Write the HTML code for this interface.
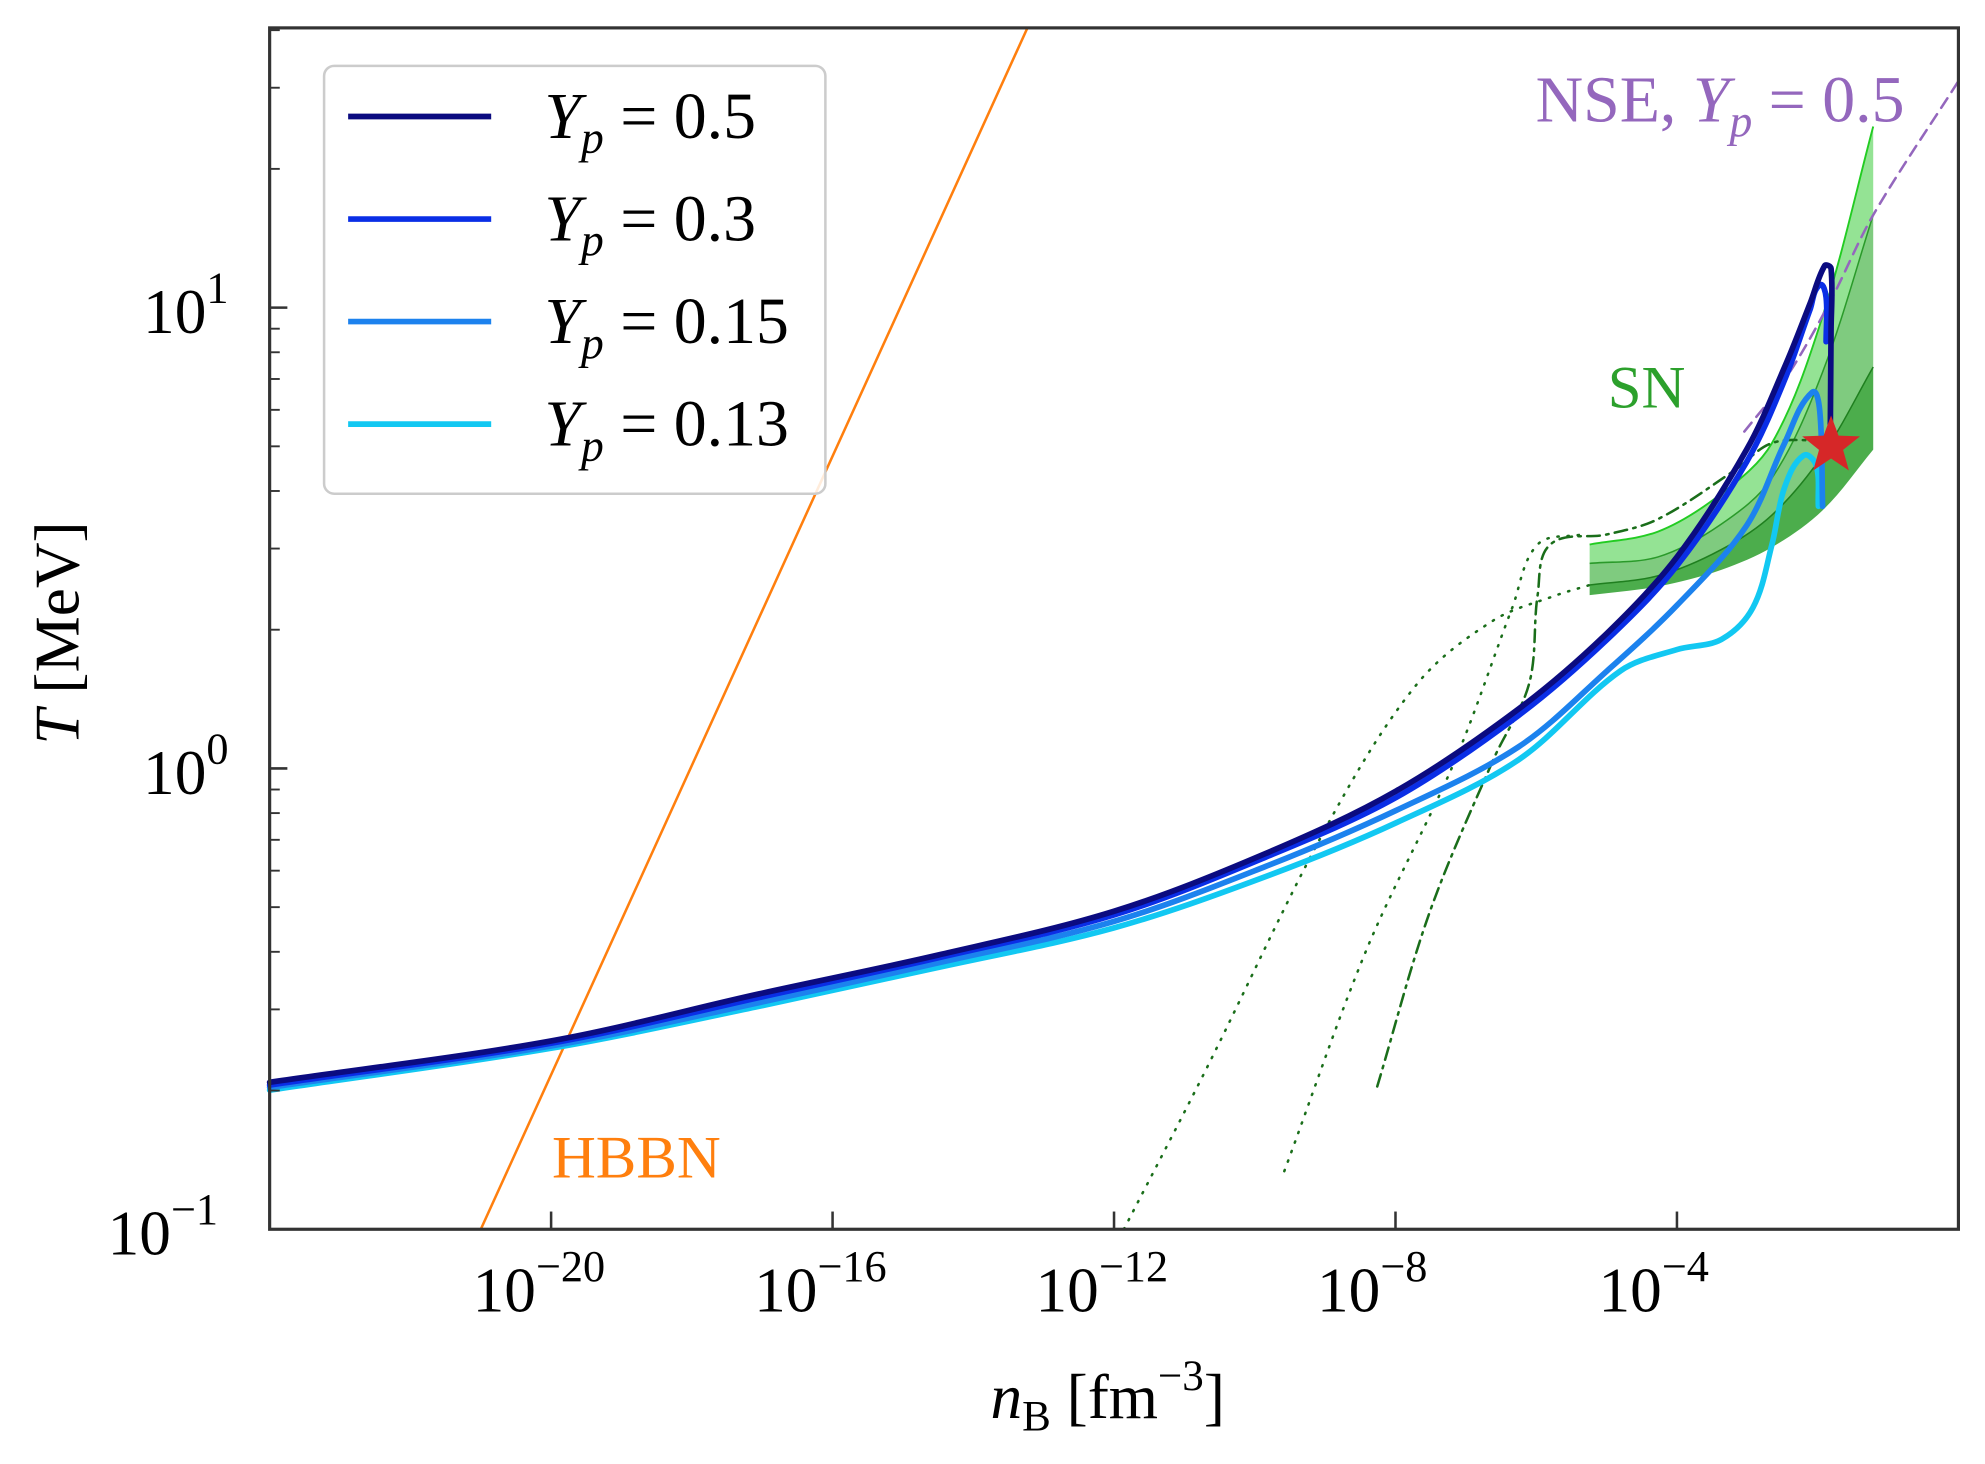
<!DOCTYPE html>
<html><head><meta charset="utf-8"><style>
html,body{margin:0;padding:0;background:#fff;width:1985px;height:1464px;overflow:hidden}
svg{display:block}
text{font-family:"Liberation Serif",serif}
</style></head><body>
<svg id="chart" width="1985" height="1464" viewBox="0 0 1568 1156.4" xmlns="http://www.w3.org/2000/svg">
<g id="bands"></g>
<g id="lines"></g>
<g id="axes"></g>
<text x="1270" y="322" font-size="48" fill="#2ca02c">SN</text>
<text x="436" y="930" font-size="48" fill="#ff7f0e">HBBN</text>
<text x="1213" y="96" font-size="52" fill="#9467bd">NSE, <tspan font-style="italic">Y</tspan><tspan font-style="italic" font-size="36" dy="12">p</tspan><tspan dy="-12"> = 0.5</tspan></text>
<g>
<rect x="256" y="52" width="396" height="338" rx="8" fill="#fff" fill-opacity="0.85" stroke="#ccc" stroke-width="2"/>
<g id="legend-entries"></g>
</g>
<text x="875" y="1120" font-size="50" text-anchor="middle"><tspan font-style="italic">n</tspan><tspan font-size="34" dy="10">B</tspan><tspan dy="-10"> [fm</tspan><tspan font-size="34" dy="-22">−3</tspan><tspan dy="22">]</tspan></text>
<text transform="translate(62,500) rotate(-90)" font-size="50" text-anchor="middle"><tspan font-style="italic">T</tspan> [MeV]</text>
</svg>
<script>
// axis domains (log10)
const xDomain = [-24, 0];
const yDomain = [-1, 1.607];
const xTickExps = [-20, -16, -12, -8, -4];
const yTickExps = [-1, 0, 1];
// Y_p curves: log10 n_B and log10 T
const yp05N = [-24,-19.99,-17.04,-14.5,-12,-9.85,-7.99,-6.25,-4.99,-4,-3.01,-2.47,-2.11,-1.90,-1.81,-1.81,-1.82,-1.82];
const yp05T = [-0.681,-0.591,-0.489,-0.405,-0.310,-0.185,-0.049,0.129,0.294,0.459,0.692,0.871,1.008,1.091,1.085,0.953,0.734,0.679];
const yp03N = [-24,-19.99,-17.04,-14.5,-12,-9.85,-7.99,-6.25,-4.99,-4,-3.01,-2.47,-2.11,-1.97,-1.88,-1.88];
const yp03T = [-0.687,-0.596,-0.497,-0.411,-0.318,-0.193,-0.063,0.115,0.280,0.440,0.665,0.843,0.995,1.049,1.022,0.926];
const yp015N = [-24,-19.99,-17.04,-14.5,-12,-9.85,-7.99,-6.25,-4.99,-4,-3.01,-2.47,-2.08,-1.97,-1.93];
const yp015T = [-0.692,-0.602,-0.508,-0.422,-0.332,-0.213,-0.091,0.047,0.212,0.354,0.527,0.706,0.816,0.775,0.569];
const yp013N = [-24,-19.99,-17.04,-14.5,-12,-9.85,-7.99,-6.25,-4.80,-4,-3.37,-2.92,-2.65,-2.47,-2.20,-2.02,-1.99];
const yp013T = [-0.698,-0.607,-0.516,-0.432,-0.346,-0.235,-0.118,0.019,0.212,0.258,0.280,0.349,0.486,0.610,0.679,0.657,0.569];
// HBBN and NSE
const hbbnN = [-21.0, -13.23];
const hbbnT = [-1.0, 1.607];
const nseN = [-0.01,-1.21,-1.84,-2.47,-3.10];
const nseT = [1.489,1.201,1.008,0.843,0.720];
// SN bands
const bandN = [-5.24,-4.27,-3.37,-2.65,-1.93,-1.21];
const bandTop = [0.486,0.514,0.596,0.706,0.981,1.393];
const band2 = [0.445,0.459,0.53,0.63,0.86,1.201];
const band3 = [0.398,0.418,0.475,0.55,0.68,0.871];
const bandBot = [0.376,0.395,0.431,0.48,0.56,0.692];
// SN trajectories
const dot1N = [-11.86,-10.74,-8.95,-7.69,-6.61,-5.71,-5.24];
const dot1T = [-1.0,-0.668,-0.118,0.184,0.321,0.376,0.398];
const dot2N = [-9.58,-8.41,-7.15,-6.34,-5.98,-5.35];
const dot2T = [-0.874,-0.393,0.019,0.349,0.486,0.508];
const dashN = [-8.26,-7.51,-6.61,-6.10,-5.98,-5.80,-4.99,-4.27,-3.19,-2.65,-1.93];
const dashT = [-0.690,-0.310,0.019,0.184,0.376,0.486,0.508,0.541,0.646,0.706,0.712];
const starPoint = [-1.81, 0.70];

const L=213,R=1547,T=22,B=971;
function sx(v){return L+(v-xDomain[0])/(xDomain[1]-xDomain[0])*(R-L);}
function sy(v){return B-(v-yDomain[0])/(yDomain[1]-yDomain[0])*(B-T);}
const NS="http://www.w3.org/2000/svg";
function mk(tag,attrs,parent){const e=document.createElementNS(NS,tag);for(const k in attrs)e.setAttribute(k,attrs[k]);parent.appendChild(e);return e;}
function toPx(xs,ys){return xs.map((x,i)=>[sx(x),sy(ys[i])]);}
function tangent(p,i){
  const a=p[Math.max(0,i-1)],b=p[Math.min(p.length-1,i+1)];
  let dx=b[0]-a[0],dy=b[1]-a[1];const n=Math.hypot(dx,dy)||1;return [dx/n,dy/n];
}
function smooth(p){
  if(p.length<3)return "M"+p.map(q=>q[0].toFixed(1)+","+q[1].toFixed(1)).join(" L");
  let d="M"+p[0][0].toFixed(1)+","+p[0][1].toFixed(1);
  for(let i=0;i<p.length-1;i++){
    const p1=p[i],p2=p[i+1];
    const len=Math.hypot(p2[0]-p1[0],p2[1]-p1[1])/3;
    const t1=tangent(p,i),t2=tangent(p,i+1);
    const c1=[p1[0]+t1[0]*len,p1[1]+t1[1]*len];
    const c2=[p2[0]-t2[0]*len,p2[1]-t2[1]*len];
    d+=" C"+c1[0].toFixed(1)+","+c1[1].toFixed(1)+" "+c2[0].toFixed(1)+","+c2[1].toFixed(1)+" "+p2[0].toFixed(1)+","+p2[1].toFixed(1);
  }
  return d;
}

const bands=document.getElementById('bands');
function bandPoly(upper,lower,fill,name){
  const up=smooth(toPx(bandN,upper));
  const lo=smooth(toPx(bandN.slice().reverse(),lower.slice().reverse())).replace(/^M/,"L");
  const e=mk('path',{d:up+" "+lo+" Z",fill:fill,stroke:'none'},bands);
  
  
}
bandPoly(bandTop,band2,'#94e394','sn-band-light');
bandPoly(band2,band3,'#7fcb7f','sn-band-medium');
bandPoly(band3,bandBot,'#4cad4c','sn-band-dark');
const bl1=mk('path',{d:smooth(toPx(bandN,bandTop)),fill:'none',stroke:'#22cc22','stroke-width':1.5},bands);


const bl2=mk('path',{d:smooth(toPx(bandN,band2)),fill:'none',stroke:'#2a9a2a','stroke-width':1.2},bands);


const bl3=mk('path',{d:smooth(toPx(bandN,band3)),fill:'none',stroke:'#1f7f1f','stroke-width':1.2},bands);



const lines=document.getElementById('lines');
function line(xs,ys,color,w,dash,name){
  const a={d:smooth(toPx(xs,ys)),fill:'none',stroke:color,'stroke-width':w,'stroke-linejoin':'round','stroke-linecap':'round'};
  if(dash)a['stroke-dasharray']=dash;
  const e=mk('path',a,lines);
  
  
}
line(hbbnN,hbbnT,'#ff7f0e',2,null,'hbbn-line');
line(nseN,nseT,'#9467bd',2,'9,6','nse-line');
line(dot1N,dot1T,'#1a6e1a',2,'1,7','sn-dotted-1');
line(dot2N,dot2T,'#1a6e1a',2,'1,7','sn-dotted-2');
line(dashN,dashT,'#1a6e1a',2,'10,5,2,5','sn-dashdot');
line(yp013N,yp013T,'#12c8f2',4.5,null,'curve-yp-0.13');
line(yp015N,yp015T,'#1c82ee',4.5,null,'curve-yp-0.15');
line(yp03N,yp03T,'#0a2ee6',4.5,null,'curve-yp-0.3');
line(yp05N,yp05T,'#0b0b80',4.5,null,'curve-yp-0.5');
(function(){
  const cx=sx(starPoint[0]),cy=sy(starPoint[1]),ro=24,ri=10;let p=[];
  for(let i=0;i<10;i++){const r=i%2?ri:ro;const a=-Math.PI/2+i*Math.PI/5;p.push((cx+r*Math.cos(a)).toFixed(1)+","+(cy+r*Math.sin(a)).toFixed(1));}
  const s=mk('polygon',{points:p.join(" "),fill:'#d62728'},lines);
  
  
})();

const axes=document.getElementById('axes');
const frame=mk('rect',{x:L,y:T,width:R-L,height:B-T,fill:'none',stroke:'#333','stroke-width':2.5},axes);


xTickExps.forEach(e=>{
  const x=sx(e);
  const t=mk('line',{x1:x,x2:x,y1:B,y2:B-14,stroke:'#333','stroke-width':2},axes);
  
  
  const lab=mk('text',{x:x-62,y:1036,'font-size':50},axes);
  
  
  lab.innerHTML='10<tspan font-size="35" dy="-24">−'+Math.abs(e)+'</tspan>';
});
yTickExps.forEach(e=>{
  const y=sy(e);
  const t=mk('line',{x1:L,x2:L+14,y1:y,y2:y,stroke:'#333','stroke-width':2},axes);
  
  
  const lab=mk('text',{x:e<0?85:113,y:y+20,'font-size':50},axes);
  
  
  lab.innerHTML='10<tspan font-size="35" dy="-24">'+(e<0?'−':'')+Math.abs(e)+'</tspan>';
  for(let m=2;m<=9;m++){
    const v=e+Math.log10(m);
    if(v>yDomain[1])break;
    const yy=sy(v);
    const mt=mk('line',{x1:L,x2:L+8,y1:yy,y2:yy,stroke:'#333','stroke-width':1.5},axes);
    
    
  }
});

const legendLabels=['0.5','0.3','0.15','0.13'];
const legendColors=['#0b0b80','#0a2ee6','#1c82ee','#12c8f2'];
const lg=document.getElementById('legend-entries');
legendLabels.forEach((l,i)=>{
  const y=92+i*81;
  const g=mk('g',{},lg);
  
  
  mk('line',{x1:275,x2:388,y1:y,y2:y,stroke:legendColors[i],'stroke-width':4.5},g);
  const t=mk('text',{x:430,y:y+17,'font-size':52},g);
  t.innerHTML='<tspan font-style="italic">Y</tspan><tspan font-style="italic" font-size="36" dy="12">p</tspan><tspan dy="-12"> = '+l+'</tspan>';
});
</script>
</body></html>
